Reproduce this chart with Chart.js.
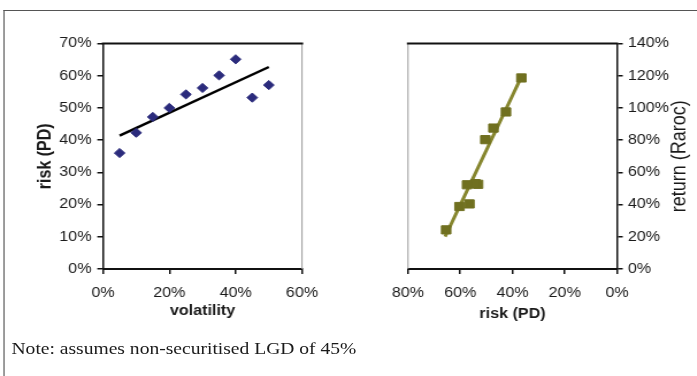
<!DOCTYPE html>
<html>
<head>
<meta charset="utf-8">
<script src="https://cdn.jsdelivr.net/npm/chart.js@4"></script>
<style>
  html, body { margin: 0; padding: 0; background: #fff; overflow: hidden; }
  /* the reference is a slightly wide-stretched scan, so draw narrower and stretch */
  #page { position: absolute; left: 0; top: 0; width: 606px; height: 376px; transform: scaleX(1.15); transform-origin: 0 0; }
  #frame { position: absolute; left: 3px; top: 10px; width: 700px; height: 400px; border-left: 1.5px solid #555; border-top: 1.5px solid #555; }
  #leftBox { position: absolute; left: 0; top: 0; width: 300px; height: 376px; }
  #rightBox { position: absolute; left: 300px; top: 0; width: 306px; height: 376px; }
  #note { position: absolute; left: 10px; top: 340px; font: 17px "Liberation Serif", "Times New Roman", serif; line-height: 1; color: #1a1a1a; white-space: nowrap; }
</style>
</head>
<body>
<div id="page">
  <div id="frame"></div>
  <div id="leftBox"><canvas id="volChart"></canvas></div>
  <div id="rightBox"><canvas id="rarocChart"></canvas></div>
  <div id="note">Note: assumes non-securitised LGD of 45%</div>
</div>
<script>
// left panel: volatility vs risk (PD), values in %
const volatility = [5, 10, 15, 20, 25, 30, 35, 40, 45, 50];
const riskPD = [36, 42.3, 47.2, 50, 54.2, 56.2, 60.1, 65.1, 53.2, 57.1];
const volTrendX = [5, 50];
const volTrendY = [41.4, 62.7];

// right panel: risk (PD) vs return (Raroc), values in %
const riskRight = [36.6, 42.5, 47.3, 50.4, 53.2, 54.2, 56.5, 57.4, 60.3, 65.4];
const raroc = [118.6, 97.5, 87.5, 80.3, 52.6, 53, 40.4, 52.3, 38.8, 24.3];
const rarocTrendX = [65.8, 36.2];
const rarocTrendY = [20.1, 120.7];

const textColor = '#1a1a1a';
const tickFont = { family: 'Liberation Sans, Arial, sans-serif', size: 14 };
const titleFont = { family: 'Liberation Sans, Arial, sans-serif', size: 14, weight: 'bold' };

function toPoints(xs, ys) {
    return xs.map((x, i) => ({ x: x, y: ys[i] }));
}

const pct = v => v + '%';

// plot area frame: thick top edge, thin grey edge opposite the value axis
const plotFrame = {
    id: 'plotFrame',
    beforeDatasetsDraw(chart, args, opts) {
        const { left, right, top, bottom } = chart.chartArea;
        const ctx = chart.ctx;
        ctx.save();
        ctx.strokeStyle = '#999';
        ctx.lineWidth = 1;
        const sx = opts.side === 'right' ? right : left;
        ctx.beginPath();
        ctx.moveTo(sx, top);
        ctx.lineTo(sx, bottom);
        ctx.stroke();
        ctx.strokeStyle = '#111';
        ctx.lineWidth = 2;
        ctx.beginPath();
        ctx.moveTo(left - 1, top);
        ctx.lineTo(right + 1, top);
        ctx.stroke();
        ctx.restore();
    }
};

// right axis title reads bottom-to-top like the left one
const sideTitle = {
    id: 'sideTitle',
    afterDraw(chart, args, opts) {
        if (!opts.text) return;
        const s = chart.scales.y;
        const ctx = chart.ctx;
        ctx.save();
        ctx.translate(s.right - opts.offset, (chart.chartArea.top + chart.chartArea.bottom) / 2);
        ctx.rotate(-Math.PI / 2);
        ctx.font = opts.font;
        ctx.fillStyle = textColor;
        ctx.textAlign = 'center';
        ctx.textBaseline = 'middle';
        ctx.fillText(opts.text, 0, 0);
        ctx.restore();
    }
};

function axis(extra) {
    return Object.assign({
        type: 'linear',
        ticks: { color: textColor, font: tickFont, callback: pct },
        grid: { drawOnChartArea: false, drawTicks: true, tickLength: 5, color: '#111', lineWidth: 1.5 },
        border: { display: true, color: '#111', width: 1.5 }
    }, extra);
}

new Chart(document.getElementById('volChart'), {
    type: 'scatter',
    data: {
        datasets: [{
            data: toPoints(volatility, riskPD),
            pointStyle: 'rectRot',
            pointRadius: 4.6,
            backgroundColor: '#2b2b7c',
            borderColor: '#2b2b7c',
            borderWidth: 1,
            order: 1
        }, {
            type: 'line',
            data: toPoints(volTrendX, volTrendY),
            borderColor: '#000',
            borderWidth: 2.5,
            pointRadius: 0,
            order: 2
        }]
    },
    plugins: [plotFrame],
    options: {
        responsive: true,
        maintainAspectRatio: false,
        animation: false,
        layout: { padding: { left: 30, top: 43.5, right: 37.4, bottom: 56 } },
        plugins: { legend: { display: false }, tooltip: { enabled: false }, plotFrame: { side: 'right' } },
        scales: {
            x: axis({
                min: 0, max: 60,
                ticks: { color: textColor, font: tickFont, callback: pct, stepSize: 20, padding: 11 },
                border: { display: true, color: '#111', width: 2 },
                title: { display: true, text: 'volatility', color: textColor, font: titleFont, padding: 0 },
                afterFit(s) { s.height = 51; }
            }),
            y: axis({
                min: 0, max: 70,
                ticks: { color: textColor, font: tickFont, callback: pct, stepSize: 10, padding: 5 },
                title: { display: true, text: 'risk (PD)', color: textColor, font: { family: titleFont.family, size: 16, weight: 'bold' }, padding: 0 },
                afterFit(s) { s.width = 59.6; }
            })
        }
    }
});

new Chart(document.getElementById('rarocChart'), {
    type: 'scatter',
    data: {
        datasets: [{
            data: toPoints(riskRight, raroc),
            pointStyle: 'rect',
            pointRadius: 5.8,
            backgroundColor: '#707020',
            borderColor: '#707020',
            borderWidth: 1,
            order: 1
        }, {
            type: 'line',
            data: toPoints(rarocTrendX, rarocTrendY),
            borderColor: '#86862e',
            borderWidth: 3,
            pointRadius: 0,
            order: 2
        }]
    },
    plugins: [plotFrame, sideTitle],
    options: {
        responsive: true,
        maintainAspectRatio: false,
        animation: false,
        layout: { padding: { left: 54.8, top: 43.5, right: 3.9, bottom: 53.6 } },
        plugins: {
            legend: { display: false },
            tooltip: { enabled: false },
            plotFrame: { side: 'left' },
            sideTitle: { text: 'return (Raroc)', font: '18px "Liberation Sans", Arial, sans-serif', offset: 10.8 }
        },
        scales: {
            x: axis({
                min: 0, max: 80, reverse: true,
                ticks: { color: textColor, font: tickFont, callback: pct, stepSize: 20, padding: 11 },
                border: { display: true, color: '#111', width: 2 },
                title: { display: true, text: 'risk (PD)', color: textColor, font: titleFont, padding: 0 },
                afterFit(s) { s.height = 53.4; }
            }),
            y: axis({
                position: 'right',
                min: 0, max: 140,
                ticks: { color: textColor, font: tickFont, callback: pct, stepSize: 20, padding: 4.5 },
                afterFit(s) { s.width = 65.6; }
            })
        }
    }
});
</script>
</body>
</html>
